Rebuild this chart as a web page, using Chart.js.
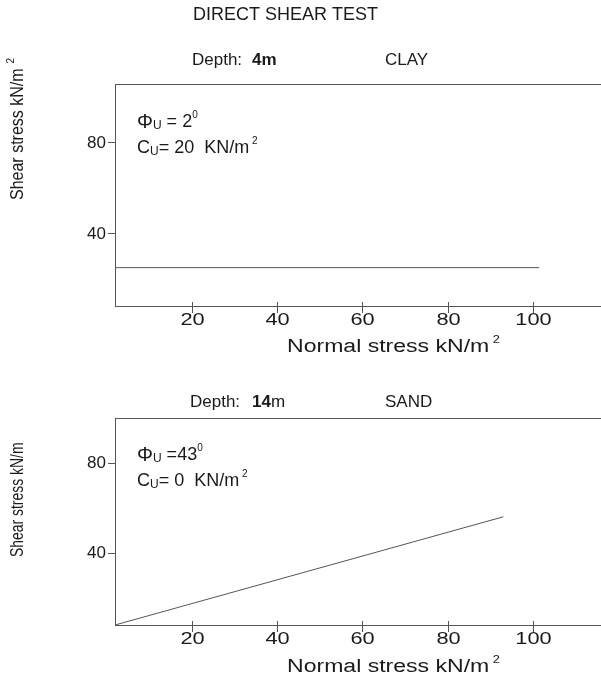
<!DOCTYPE html>
<html>
<head>
<meta charset="utf-8">
<script src="https://cdn.jsdelivr.net/npm/chart.js@4.4.1/dist/chart.umd.min.js"></script>
<style>
html,body{margin:0;padding:0;background:#fff;overflow:hidden}
canvas{position:absolute;left:0}
#c1{top:0;width:601px;height:370px}
#c2{top:370px;width:601px;height:311px}
</style>
</head>
<body>
<canvas id="c1" width="601" height="370"></canvas>
<canvas id="c2" width="601" height="311"></canvas>
<script>

/* DATA */

const xTickValues=[20,40,60,80,100]
const yTickValues=[40,80]

const clayX=[2,101.5]
const clayY=[25.2,25.2]

const sandX=[2,93.1]
const sandY=[8,56.3]


const FONT="'Liberation Sans', Arial, sans-serif"
const INK="#1a1a1a"
const LINE="#555"

/* x labels of the original are drawn a bit wide */
const X_STRETCH=1.28


/* TEXT HELPER - parts drawn one after another, sx = horizontal stretch */

function drawParts(ctx,x,y,parts,sx){

ctx.save()
ctx.translate(x,y)
ctx.scale(sx||1,1)

let cx=0

parts.forEach(p=>{
ctx.font=(p.bold?"bold ":"")+p.size+"px "+FONT
ctx.fillText(p.t,cx,p.dy||0)
cx+=ctx.measureText(p.t).width
})

ctx.restore()

}


/* PANEL PLUGIN: frame top, crossing x ticks + labels, titles, notes */

function panelPlugin(cfg){

return {
id:"panel",
afterDraw(chart){

const ctx=chart.ctx
const area=chart.chartArea
const xs=chart.scales.x

ctx.save()

ctx.strokeStyle=LINE
ctx.lineWidth=1

ctx.beginPath()
ctx.moveTo(area.left,area.top+0.5)
ctx.lineTo(area.right,area.top+0.5)
ctx.stroke()

ctx.fillStyle=INK
ctx.textBaseline="middle"

xs.ticks.forEach(t=>{

const px=Math.round(xs.getPixelForValue(t.value))+0.5

ctx.beginPath()
ctx.moveTo(px,area.bottom-4)
ctx.lineTo(px,area.bottom+7)
ctx.stroke()

ctx.save()
ctx.translate(px,area.bottom+14)
ctx.scale(X_STRETCH,1)
ctx.textAlign="center"
ctx.font="17px "+FONT
ctx.fillText(String(t.value),0,0)
ctx.restore()

})

ctx.textAlign="left"

cfg.texts.forEach(tx=>drawParts(ctx,tx.x,tx.y,tx.parts,tx.sx))

/* y axis title, rotated */

ctx.save()
ctx.translate(18,cfg.yTitleY)
ctx.rotate(-Math.PI/2)
ctx.scale(cfg.yTitleScale,1.15)
ctx.font="16px "+FONT
ctx.fillText(cfg.yTitle,0,0)
if(cfg.yTitleSup){
const w=ctx.measureText(cfg.yTitle).width
ctx.font="10px "+FONT
ctx.fillText(cfg.yTitleSup,w+5,-6)
}
ctx.restore()

ctx.restore()

}
}

}


/* CHART BUILDER */

function makeChart(id,xs,ys,yMin,yMax,padTop,xHeight,cfg){

return new Chart(document.getElementById(id),{

type:"scatter",

data:{
datasets:[{
data:xs.map((x,i)=>({x:x,y:ys[i]})),
showLine:true,
borderColor:LINE,
borderWidth:1,
pointRadius:0,
fill:false
}]
},

options:{
responsive:false,
animation:false,
devicePixelRatio:1,
layout:{padding:{top:padTop,left:0,right:0,bottom:0}},
plugins:{legend:{display:false},tooltip:{enabled:false}},

scales:{

x:{
type:"linear",
min:2,
max:116,
border:{color:LINE,width:1},
grid:{drawOnChartArea:false,drawTicks:false},
ticks:{display:false},
afterBuildTicks:s=>{s.ticks=xTickValues.map(v=>({value:v}))},
afterFit:s=>{s.height=xHeight}
},

y:{
type:"linear",
min:yMin,
max:yMax,
border:{color:LINE,width:1},
grid:{drawOnChartArea:false,drawTicks:true,tickLength:7,color:LINE},
ticks:{color:INK,padding:2,font:{family:FONT,size:17}},
afterBuildTicks:s=>{s.ticks=yTickValues.map(v=>({value:v}))},
afterFit:s=>{s.width=115}
}

}
},

plugins:[panelPlugin(cfg)]

})

}


/* TOP PANEL - CLAY */

makeChart("c1",clayX,clayY,8.35,105.9,84,64,{
yTitle:"Shear stress kN/m",
yTitleSup:"2",
yTitleY:200,
yTitleScale:1,
texts:[
{x:193,y:15,parts:[{t:"DIRECT SHEAR TEST",size:18}]},
{x:192,y:60,parts:[{t:"Depth:",size:17}]},
{x:252,y:60,parts:[{t:"4m",size:17,bold:true}]},
{x:385,y:60,parts:[{t:"CLAY",size:17}]},
{x:137,y:122,parts:[{t:"Φ",size:20},{t:"U",size:12,dy:4},{t:" = 2",size:18},{t:"0",size:10,dy:-7}]},
{x:137,y:148,parts:[{t:"C",size:18},{t:"U",size:12,dy:4},{t:"= 20  KN/m",size:18},{t:" 2",size:10,dy:-7}]},
{x:287,y:347,sx:X_STRETCH,parts:[{t:"Normal stress kN/m",size:18},{t:" 2",size:10,dy:-7}]}
]
})


/* BOTTOM PANEL - SAND */

makeChart("c2",sandX,sandY,8,100.4,48,56,{
yTitle:"Shear stress kN/m",
yTitleSup:"",
yTitleY:187,
yTitleScale:0.87,
texts:[
{x:190,y:32,parts:[{t:"Depth:",size:17}]},
{x:252,y:32,parts:[{t:"14",size:17,bold:true},{t:"m",size:17}]},
{x:385,y:32,parts:[{t:"SAND",size:17}]},
{x:137,y:85,parts:[{t:"Φ",size:20},{t:"U",size:12,dy:4},{t:" =43",size:18},{t:"0",size:10,dy:-7}]},
{x:137,y:111,parts:[{t:"C",size:18},{t:"U",size:12,dy:4},{t:"= 0  KN/m",size:18},{t:" 2",size:10,dy:-7}]},
{x:287,y:297,sx:X_STRETCH,parts:[{t:"Normal stress kN/m",size:18},{t:" 2",size:10,dy:-7}]}
]
})

</script>
</body>
</html>
